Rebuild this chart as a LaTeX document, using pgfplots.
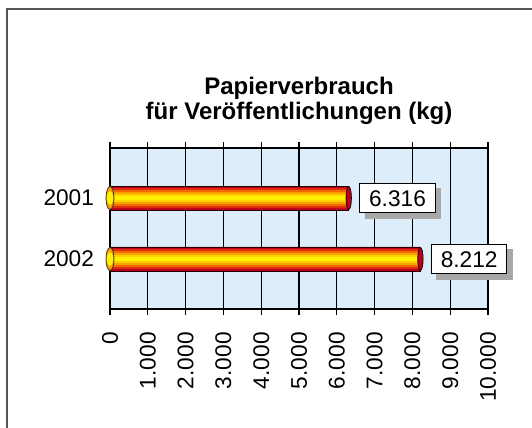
\documentclass[border=0pt]{standalone}
\usepackage{fontspec}
\setmainfont{Liberation Sans}
\usepackage{pgfplots}
\pgfplotsset{compat=1.18}
\definecolor{plotbg}{HTML}{DDEEFA}
\definecolor{bandA}{HTML}{B8001E}
\definecolor{bandB}{HTML}{E02A10}
\definecolor{bandC}{HTML}{F06A00}
\definecolor{bandD}{HTML}{F8A000}
\definecolor{bandE}{HTML}{FFD000}
\definecolor{bandF}{HTML}{FFF200}
\definecolor{shadowgray}{HTML}{A8A8A8}
\definecolor{framegray}{HTML}{555555}
\pgfdeclareplotmark{capR}{%
  \pgfpathellipse{\pgfpointorigin}{\pgfqpoint{2pt}{0pt}}{\pgfqpoint{0pt}{8.6pt}}%
  \pgfusepathqfillstroke}
\pgfdeclareplotmark{capL}{%
  \pgfpathellipse{\pgfpointorigin}{\pgfqpoint{3pt}{0pt}}{\pgfqpoint{0pt}{8.6pt}}%
  \pgfusepathqfillstroke}
\pgfdeclareplotmark{capLin}{%
  \pgfpathellipse{\pgfpointorigin}{\pgfqpoint{2.4pt}{0pt}}{\pgfqpoint{0pt}{5pt}}%
  \pgfusepathqfill}
\pgfplotsset{band/.style={xbar, bar shift=0pt, draw=none, forget plot}}
\tikzset{valbox/.style={anchor=west, line width=0.6pt, font=\fontsize{17}{20}\selectfont,
    text height=12.2pt, text depth=0pt, inner xsep=7pt, inner ysep=5pt}}
\begin{document}
\begin{tikzpicture}
\begin{axis}[
  scale only axis,
  width=283.5pt, height=120.75pt,
  xmin=0, xmax=10000,
  ymin=0.18, ymax=2.82,
  y dir=reverse,
  clip=false,
  axis background/.style={fill=plotbg},
  axis line style={black, line width=0.9pt},
  xtick={0,1000,...,10000},
  xmajorgrids,
  grid style={black, line width=0.9pt},
  tick align=outside,
  major tick length=4.5pt,
  xtick style={black, line width=0.9pt},
  ytick={1,2},
  yticklabels={2001,2002},
  ytick style={draw=none},
  /pgf/number format/.cd, 1000 sep={.}, assume math mode=true, /pgfplots/.cd,
  scaled x ticks=false,
  tick label style={font=\fontsize{17}{20}\selectfont},
  xticklabel style={rotate=90, anchor=east, xshift=-9.5pt},
  yticklabel style={xshift=-4pt},
  title={Papierverbrauch\\für Veröffentlichungen (kg)},
  title style={font=\fontsize{18}{18.5}\bfseries, align=center, at={(0.5,1)}, anchor=south, yshift=8pt},
]
% left caps
\addplot[only marks, mark=capL, mark options={fill=bandD, draw=black!80, line width=0.6pt}]
  coordinates {(0,1) (0,2)};
\addplot[only marks, mark=capLin, mark options={fill=bandF, draw=none}]
  coordinates {(0,1) (0,2)};
% bars as bands
\addplot[band, bar width=18pt, fill=bandA, draw=black!85!red, line width=0.6pt] coordinates {(6316,1) (8212,2)};
\addplot[band, bar width=15pt, fill=bandB] coordinates {(6316,1) (8212,2)};
\addplot[band, bar width=12pt, fill=bandC] coordinates {(6316,1) (8212,2)};
\addplot[band, bar width=9pt, fill=bandD] coordinates {(6316,1) (8212,2)};
\addplot[band, bar width=6pt, fill=bandE] coordinates {(6316,1) (8212,2)};
\addplot[band, bar width=3pt, fill=bandF] coordinates {(6316,1) (8212,2)};
% right caps
\addplot[only marks, mark=capR, mark options={fill=bandA, draw=black!85!red, line width=0.6pt}]
  coordinates {(6316,1) (8212,2)};
% value label shadows
\addplot[only marks, mark=none, forget plot,
  point meta=explicit symbolic,
  nodes near coords={\phantom{\pgfplotspointmeta}},
  every node near coord/.style={valbox, xshift=12pt, yshift=-4pt, fill=shadowgray, draw=shadowgray}]
  coordinates {(6316,1) [6.316] (8212,2) [8.212]};
% value labels
\addplot[only marks, mark=none, forget plot,
  point meta=explicit symbolic,
  nodes near coords={\pgfplotspointmeta},
  every node near coord/.style={valbox, xshift=8pt, fill=white, draw=black, text=black}]
  coordinates {(6316,1) [6.316] (8212,2) [8.212]};
\end{axis}
\draw[framegray, line width=0.8pt] (330pt,225pt) -- (-77.25pt,225pt) -- (-77.25pt,-100pt);
\pgfresetboundingbox
\path[use as bounding box] (-82.5pt,-89.25pt) rectangle (316.5pt,231.75pt);
\end{tikzpicture}
\end{document}
